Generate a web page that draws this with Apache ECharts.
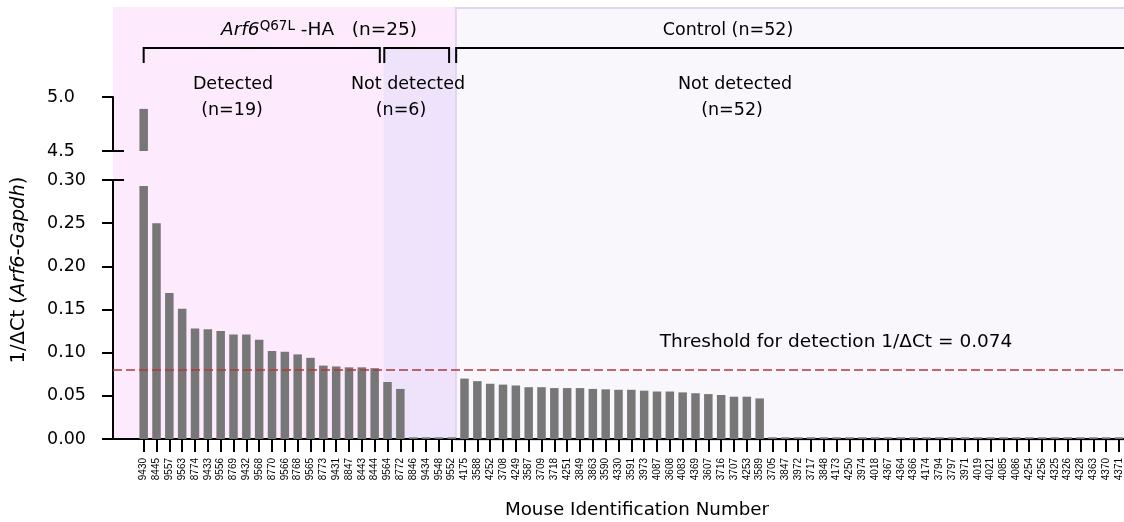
<!DOCTYPE html>
<html><head><meta charset="utf-8">
<script src="https://cdn.jsdelivr.net/npm/echarts@6/dist/echarts.min.js"></script>
<style>html,body{margin:0;padding:0;background:#fff}#c{width:1124px;height:522px}</style>
</head><body><div id="c"></div>
<script>
// ---- data ----
const transgenicIds = ['9430','8445','9557','9563','8774','9433','9556','8769','9432','9568','8770','9566','8768','9565','8773','9431','8847','8443','8444','9564','8772','8846','9434','9548','9552'];
const transgenicValues = [4.89,0.250,0.169,0.151,0.128,0.127,0.125,0.121,0.121,0.115,0.102,0.101,0.098,0.094,0.085,0.084,0.083,0.083,0.082,0.066,0.058,0.002,0.002,0.002,0.002];
const controlIds = ['4175','3588','4252','3708','4249','3587','3709','3718','4251','3849','3863','3590','4330','3591','3973','4087','3608','4083','4369','3607','3716','3707','4253','3589','3705','3847','3972','3717','3848','4173','4250','3974','4018','4367','4364','4366','4174','3794','3797','3971','4019','4021','4085','4086','4254','4256','4325','4326','4328','4363','4370','4371'];
const controlValues = [0.070,0.067,0.064,0.063,0.062,0.060,0.060,0.059,0.059,0.059,0.058,0.0575,0.057,0.057,0.056,0.055,0.055,0.054,0.053,0.052,0.051,0.049,0.049,0.047,0.002,0.002,0.002,0.002,0.002,0.002,0.002,0.002,0.002,0.002,0.002,0.002,0.002,0.002,0.002,0.002,0.002,0.002,0.002,0.002,0.002,0.002,0.002,0.002,0.002,0.002,0.002,0.002];
const thresholdLabel = 0.074;   // value printed in the annotation
const thresholdLine = 0.076;    // height at which the dashed line is drawn in the picture
const lowerTicks = [0, 0.30, 0.05];
const upperTicks = [4.5, 5.0, 0.5];

// ---- layout constants ----
const X_MIN = -2.39, X_MAX = 76.38;
const BREAK_CAP = 0.293;
const FONT = 'DejaVu Sans';
const FS = 17.5;

const mouseIds = transgenicIds.concat(controlIds);
const allValues = transgenicValues.concat(controlValues);
const idx = mouseIds.map((_, i) => i);
const barColor = '#777777';

const lowerData = allValues.map((v, i) => [i, Math.min(v, BREAK_CAP)]);
const upperData = allValues.map((v, i) => [i, v]).filter(d => d[1] > upperTicks[0]);

const chart = echarts.init(document.getElementById('c'));
const hiddenX = (g) => ({type: 'value', gridIndex: g, min: X_MIN, max: X_MAX, show: false});

const option = {
  animation: false,
  textStyle: {fontFamily: FONT},
  grid: [
    {left: 113, right: 0, top: 7, height: 432},
    {left: 113, right: 0, top: 97, height: 54},
    {left: 113, right: 0, top: 180, height: 259}
  ],
  xAxis: [
    hiddenX(0),
    hiddenX(1),
    {
      type: 'value', gridIndex: 2, min: X_MIN, max: X_MAX,
      splitLine: {show: false},
      axisLine: {show: true, onZero: false, lineStyle: {color: '#000', width: 2}},
      axisTick: {show: true, customValues: idx, length: 13, lineStyle: {color: '#000', width: 2}},
      axisLabel: {
        customValues: idx, rotate: 90, margin: 19, color: '#000',
        fontFamily: 'Liberation Sans', fontSize: 10,
        formatter: v => mouseIds[Math.round(v)]
      }
    }
  ],
  yAxis: [
    {type: 'value', gridIndex: 0, min: 0, max: 1, show: false},
    {
      type: 'value', gridIndex: 1, min: upperTicks[0], max: upperTicks[1], interval: upperTicks[2],
      splitLine: {show: false},
      axisLine: {show: true, onZero: false, lineStyle: {color: '#000', width: 2}},
      axisTick: {show: true, length: 11, lineStyle: {color: '#000', width: 2}},
      axisLabel: {align: 'left', margin: 66, color: '#000', fontSize: FS, fontFamily: FONT, formatter: v => v.toFixed(1)}
    },
    {
      type: 'value', gridIndex: 1, position: 'left', min: upperTicks[0], max: upperTicks[1],
      splitLine: {show: false}, axisLine: {show: false, onZero: false}, axisLabel: {show: false},
      axisTick: {show: true, inside: true, length: 11, customValues: [upperTicks[0]], lineStyle: {color: '#000', width: 2}}
    },
    {
      type: 'value', gridIndex: 2, min: lowerTicks[0], max: lowerTicks[1], interval: lowerTicks[2],
      splitLine: {show: false},
      axisLine: {show: true, onZero: false, lineStyle: {color: '#000', width: 2}},
      axisTick: {show: true, length: 11, lineStyle: {color: '#000', width: 2}},
      axisLabel: {align: 'left', margin: 66, color: '#000', fontSize: FS, fontFamily: FONT, formatter: v => v.toFixed(2)}
    },
    {
      type: 'value', gridIndex: 2, position: 'left', min: lowerTicks[0], max: lowerTicks[1],
      splitLine: {show: false}, axisLine: {show: false, onZero: false}, axisLabel: {show: false},
      axisTick: {show: true, inside: true, length: 11, customValues: [lowerTicks[1]], lineStyle: {color: '#000', width: 2}}
    }
  ],
  series: [
    {
      type: 'bar', xAxisIndex: 1, yAxisIndex: 1, data: upperData, barWidth: 8.5,
      itemStyle: {color: barColor}, z: 3
    },
    {
      type: 'bar', xAxisIndex: 2, yAxisIndex: 3, data: lowerData, barWidth: 8.5,
      itemStyle: {color: barColor}, z: 3,
      markLine: {
        silent: true, symbol: 'none', label: {show: false},
        lineStyle: {color: '#b03a3a', width: 1.5, type: [9, 4]},
        data: [{yAxis: thresholdLine}]
      }
    }
  ]
};
chart.setOption(option);

// ---- annotations placed through the axis scale ----
const px = v => chart.convertToPixel({xAxisIndex: 2}, v);
const py0 = chart.convertToPixel({yAxisIndex: 3}, 0);
const regions = {pinkEnd: 24.25, purpleStart: 18.7};
const TOP = 7, BR_Y = 48, BR_TICK = 63;
const txt = (x, y, text, size) => ({
  type: 'text', x: x, y: y, z: 50,
  style: {text: text, fill: '#000', font: (size || FS) + 'px "' + FONT + '"', align: 'center', verticalAlign: 'middle'}
});
const bracket = (a, b, closeRight) => ({
  type: 'polyline', z: 40,
  shape: {points: closeRight ? [[px(a), BR_TICK], [px(a), BR_Y], [px(b), BR_Y], [px(b), BR_TICK]] : [[px(a), BR_TICK], [px(a), BR_Y], [px(b), BR_Y]]},
  style: {stroke: '#000', lineWidth: 2, fill: null}
});

const graphics = [
  {type: 'rect', z: -10, shape: {x: px(X_MIN), y: TOP, width: px(regions.pinkEnd) - px(X_MIN), height: py0 - TOP}, style: {fill: '#fdeafd'}},
  {type: 'rect', z: -9, shape: {x: px(regions.purpleStart), y: BR_Y, width: px(regions.pinkEnd) - px(regions.purpleStart), height: py0 - BR_Y}, style: {fill: '#eee3fb'}},
  {type: 'rect', z: -9, shape: {x: px(regions.pinkEnd) + 1, y: TOP + 1, width: 800, height: py0 - TOP}, style: {fill: '#f9f7fc', stroke: '#e2d3ef', lineWidth: 2}},
  bracket(0, 18.4, true),
  bracket(18.75, 23.8, true),
  bracket(24.35, X_MAX + 1, false),
  {
    type: 'text', x: 319, y: 30, z: 50,
    style: {
      text: '{i|Arf6}{s|Q67L} -HA   (n=25)', fill: '#000', align: 'center', verticalAlign: 'middle',
      font: '18.5px "' + FONT + '"',
      rich: {
        i: {fontStyle: 'italic', fontSize: 18.5, fontFamily: FONT},
        s: {fontSize: 13.5, fontFamily: FONT, verticalAlign: 'top', padding: [0, 0, 8, 0]}
      }
    }
  },
  txt(728, 30, 'Control (n=52)'),
  txt(233, 84, 'Detected'),
  txt(232, 110, '(n=19)'),
  txt(408, 84, 'Not detected'),
  txt(401, 110, '(n=6)'),
  txt(735, 84, 'Not detected'),
  txt(732, 110, '(n=52)'),
  txt(836, 342, 'Threshold for detection 1/\u0394Ct = ' + thresholdLabel.toFixed(3), 18.5),
  txt(637, 510, 'Mouse Identification Number', 18.3),
  {
    type: 'text', x: 19, y: 270, rotation: Math.PI / 2, z: 50,
    style: {
      text: '1/\u0394Ct ({i|Arf6-Gapdh})', fill: '#000', align: 'center', verticalAlign: 'middle',
      font: '19.5px "' + FONT + '"',
      rich: {i: {fontStyle: 'italic', fontSize: 19.5, fontFamily: FONT}}
    }
  }
];
chart.setOption({graphic: {elements: graphics}});
</script>
</body></html>
